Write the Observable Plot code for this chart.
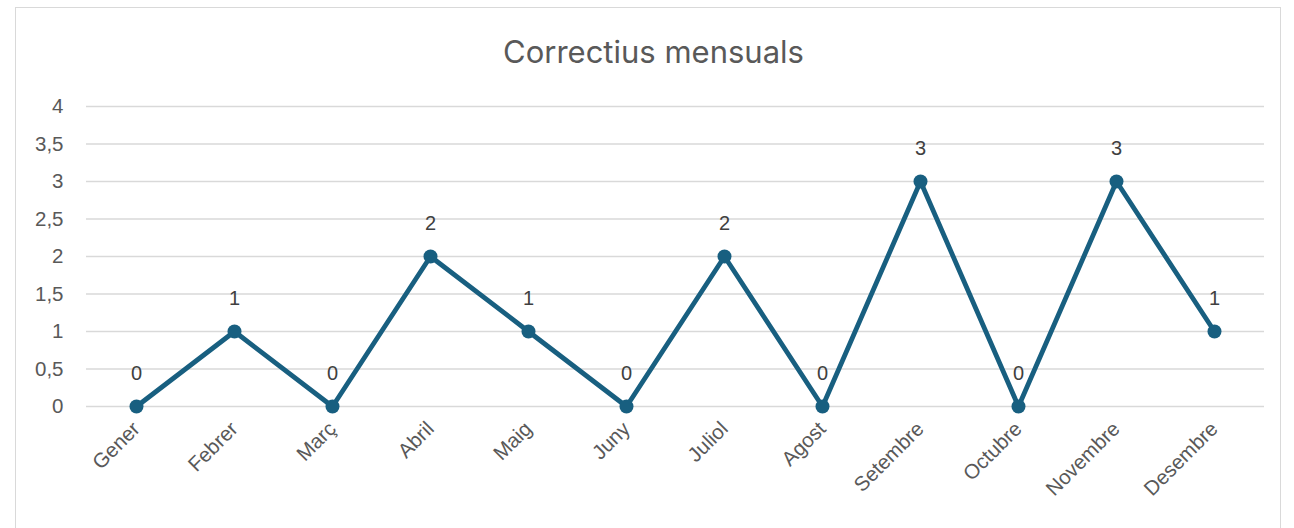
<!DOCTYPE html>
<html>
<head>
<meta charset="utf-8">
<script src="https://cdn.jsdelivr.net/npm/d3@7"></script>
<script src="https://cdn.jsdelivr.net/npm/@observablehq/plot@0.6"></script>
<style>
  html, body { margin: 0; padding: 0; background: #fff; overflow: hidden; }
  #wrap { position: relative; width: 1294px; height: 528px; }
  #frame { position: absolute; left: 15px; top: 7px; width: 1266px; height: 540px; border: 1px solid #d9d9d9; box-sizing: border-box; pointer-events: none; }
  #chart { position: absolute; left: 0; top: 0; }
</style>
</head>
<body>
<div id="wrap"><div id="frame"></div><div id="chart"></div></div>
<script>
const title = "Correctius mensuals";
const months = ["Gener","Febrer","Març","Abril","Maig","Juny","Juliol","Agost","Setembre","Octubre","Novembre","Desembre"];
const values = [0, 1, 0, 2, 1, 0, 2, 0, 3, 0, 3, 1];
const yTicks = [0, 0.5, 1, 1.5, 2, 2.5, 3, 3.5, 4];

const data = months.map((m, i) => ({month: m, value: values[i]}));
const color = "#185f80";
const fmt = d => String(d).replace(".", ",");

const chart = Plot.plot({
  width: 1294,
  height: 528,
  marginLeft: 86,
  marginRight: 30,
  marginTop: 106,
  marginBottom: 122,
  style: {fontFamily: "'Liberation Sans', Arial, sans-serif", fontSize: "20.5px", color: "#595959", background: "transparent"},
  x: {type: "point", domain: months, padding: 0.5, label: null, tickSize: 0, tickPadding: 19, tickRotate: -45},
  y: {domain: [0, 4], ticks: yTicks, tickFormat: fmt, label: null, tickSize: 0, tickPadding: 23},
  marks: [
    Plot.gridY(yTicks, {stroke: "#d9d9d9", strokeOpacity: 1, strokeWidth: 1.3}),
    Plot.line(data, {x: "month", y: "value", stroke: color, strokeWidth: 4.8, strokeLinejoin: "round"}),
    Plot.dot(data, {x: "month", y: "value", r: 7, fill: color, stroke: null}),
    Plot.text(data, {x: "month", y: "value", text: d => fmt(d.value), dy: -33, fill: "#404040", fontSize: 20}),
    Plot.text([title], {frameAnchor: "top", dx: -22, dy: -66, text: d => d, fontSize: 31, fill: "#595959", fontFamily: "Inter, 'Open Sans', sans-serif"})
  ]
});
document.getElementById("chart").appendChild(chart);
</script>
</body>
</html>
